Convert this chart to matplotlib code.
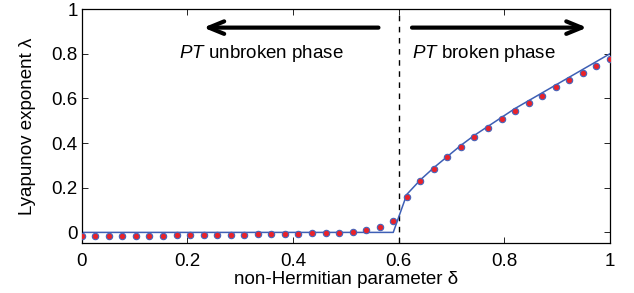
import numpy as np
import matplotlib.pyplot as plt

plt.rcParams['font.family'] = ['Liberation Sans', 'DejaVu Sans']
plt.rcParams['mathtext.fontset'] = 'custom'
plt.rcParams['mathtext.it'] = 'Liberation Sans:italic'
plt.rcParams['mathtext.rm'] = 'Liberation Sans'

# non-Hermitian parameter, 40 samples on [0, 1]
delta = [i / 39 for i in range(40)]

# numerically computed Lyapunov exponent (dots)
lyap_num = [-0.015, -0.015, -0.015, -0.015, -0.014, -0.014, -0.014, -0.013, -0.013,
            -0.012, -0.012, -0.011, -0.010, -0.009, -0.008, -0.007, -0.005, -0.003,
            -0.002, -0.001, 0.002, 0.011, 0.022, 0.052, 0.157, 0.228, 0.285, 0.337,
            0.383, 0.427, 0.467, 0.506, 0.543, 0.579, 0.613, 0.649, 0.682, 0.714,
            0.747, 0.778]

# analytic curve (solid line)
lyap_theory = [0.0] * 24 + [0.17, 0.235, 0.29, 0.34, 0.39, 0.435, 0.475, 0.515,
                            0.555, 0.59, 0.625, 0.66, 0.695, 0.73, 0.765, 0.80]

delta_c = 0.6
fs = 13.5

fig = plt.figure(figsize=(6.34, 2.93), dpi=100)
ax = fig.add_axes([0.129, 0.171, 0.833, 0.798])

ax.plot(delta, lyap_theory, color='#3d5fb5', lw=1.1, zorder=2)
ax.plot(delta, lyap_num, 'o', ms=4.6, mfc='#e8232b', mec='#4863b8', mew=0.8, zorder=3)
ax.axvline(delta_c, color='black', ls=(0, (4, 4)), lw=1.0, zorder=1)

# phase arrows
ax.annotate('', xy=(0.225, 0.917), xytext=(0.567, 0.917),
            arrowprops=dict(arrowstyle='->,head_length=1.1,head_width=0.45', lw=3, color='black'))
ax.annotate('', xy=(0.962, 0.917), xytext=(0.62, 0.917),
            arrowprops=dict(arrowstyle='->,head_length=1.1,head_width=0.45', lw=3, color='black'))
ax.text(0.185, 0.80, r'$PT$ unbroken phase', fontsize=fs, va='center', ha='left')
ax.text(0.625, 0.80, r'$PT$ broken phase', fontsize=fs, va='center', ha='left')

ax.set_xlim(0, 1)
ax.set_ylim(-0.047, 1)
ax.set_xticks([0, 0.2, 0.4, 0.6, 0.8, 1])
ax.set_xticklabels(['0', '0.2', '0.4', '0.6', '0.8', '1'])
ax.set_yticks([0, 0.2, 0.4, 0.6, 0.8, 1])
ax.set_yticklabels(['0', '0.2', '0.4', '0.6', '0.8', '1'])
ax.tick_params(direction='in', top=True, right=True, labelsize=fs, length=4, width=0.6)
ax.tick_params(axis='x', pad=7)
ax.tick_params(axis='y', pad=3)
for s in ax.spines.values():
    s.set_linewidth(0.9)
ax.set_xlabel('non-Hermitian parameter δ', fontsize=fs, labelpad=1)
ax.set_ylabel('Lyapunov exponent λ', fontsize=fs, labelpad=11)

fig.savefig('out.png', dpi=100)
